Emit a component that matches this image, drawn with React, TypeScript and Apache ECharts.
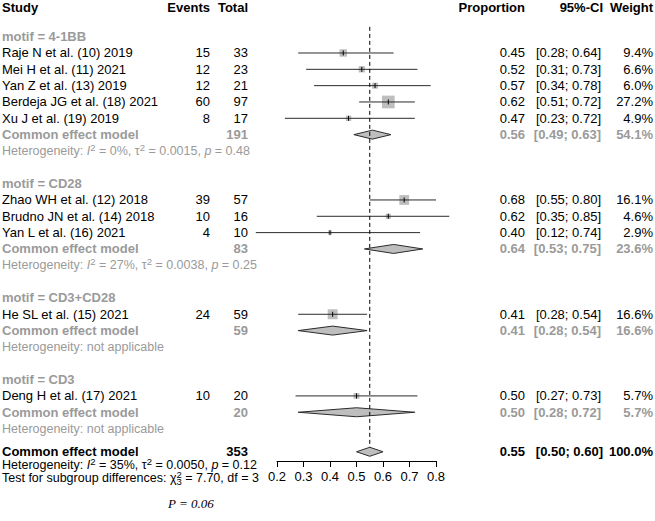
import React, { useEffect, useRef } from "react";
import * as echarts from "echarts";

// ---------- data ----------
const studies = [
  "Raje N et al. (10) 2019",
  "Mei H et al. (11) 2021",
  "Yan Z et al. (13) 2019",
  "Berdeja JG et al. (18) 2021",
  "Xu J et al. (19) 2019",
  "Zhao WH et al. (12) 2018",
  "Brudno JN et al. (14) 2018",
  "Yan L et al. (16) 2021",
  "He SL et al. (15) 2021",
  "Deng H et al. (17) 2021",
];
const studyGroup = [0, 0, 0, 0, 0, 1, 1, 1, 2, 3];
const events = [15, 12, 12, 60, 8, 39, 10, 4, 24, 10];
const totals = [33, 23, 21, 97, 17, 57, 16, 10, 59, 20];
const proportions = [0.45, 0.52, 0.57, 0.62, 0.47, 0.68, 0.62, 0.40, 0.41, 0.50];
const lowers = [0.28, 0.31, 0.34, 0.51, 0.23, 0.55, 0.35, 0.12, 0.28, 0.27];
const uppers = [0.64, 0.73, 0.78, 0.72, 0.72, 0.80, 0.85, 0.74, 0.54, 0.73];
const weights = [9.4, 6.6, 6.0, 27.2, 4.9, 16.1, 4.6, 2.9, 16.6, 5.7];

const groupLabels = ["motif = 4-1BB", "motif = CD28", "motif = CD3+CD28", "motif = CD3"];
const groupTotals = [191, 83, 59, 20];
const groupProps = [0.56, 0.64, 0.41, 0.50];
const groupLowers = [0.49, 0.53, 0.28, 0.28];
const groupUppers = [0.63, 0.75, 0.54, 0.72];
const groupWeights = [54.1, 23.6, 16.6, 5.7];
const groupI2 = ["0%", "27%", null, null];
const groupTau2 = ["0.0015", "0.0038", null, null];
const groupP = ["0.48", "0.25", null, null];

const overallTotal = 353;
const overallProp = 0.55;
const overallLower = 0.50;
const overallUpper = 0.60;
const overallWeight = 100.0;
const overallI2 = "35%";
const overallTau2 = "0.0050";
const overallP = "0.12";
const testChi2 = "7.70";
const testDf = 3;
const testP = "0.06";

const xTickLabels = ["0.2", "0.3", "0.4", "0.5", "0.6", "0.7", "0.8"];

// ---------- layout ----------
const FONT = '"Liberation Sans", Arial, sans-serif';
const SERIF = '"Liberation Serif", "Times New Roman", serif';
const GRAY = "#9a9a9a";
const LINE = "#2b2b2b";
const FILL = "#bebebe";
const TOP = 4;
const ROW_H = 16.33;
const AXIS_Y = 461;
const YMAX = (AXIS_Y - TOP) / ROW_H;
const SMALL = 12.5;

type Row = { kind: string; k: number; i?: number; g?: number };
const rows: Row[] = [];
rows.push({ kind: "header", k: 0.2 });
let kk = 2;
groupLabels.forEach((_, g) => {
  rows.push({ kind: "group", k: kk, g });
  kk++;
  studies.forEach((_, i) => {
    if (studyGroup[i] === g) {
      rows.push({ kind: "study", k: kk, i });
      kk++;
    }
  });
  rows.push({ kind: "pooled", k: kk, g });
  kk++;
  rows.push({ kind: "het", k: kk, g });
  kk += 2;
});
const OVERALL_K = kk - 0.58;
rows.push({ kind: "overall", k: OVERALL_K });
rows.push({ kind: "overallHet", k: kk + 0.22 });
rows.push({ kind: "test", k: kk + 1.0 });
rows.push({ kind: "pval", k: kk + 2.6 });
rows.push({ kind: "refline", k: 1.4 });

const fmt2 = (v: number) => v.toFixed(2);
const ciText = (l: number, u: number) => `[${fmt2(l)}; ${fmt2(u)}]`;
const wText = (w: number) => `${w.toFixed(1)}%`;

const COL = { study: 2, events: 210, total: 248, prop: 525, ci: 601, weight: 653 };

function T(text: string, x: number, y: number, o: any = {}) {
  const align = o.align ?? "left";
  return {
    type: "text",
    silent: true,
    style: {
      text,
      x,
      y,
      fill: o.color ?? "#000",
      font: `${o.italic ? "italic " : ""}${o.bold ? "bold " : ""}${o.size ?? 13}px ${o.family ?? FONT}`,
      align,
      verticalAlign: "middle",
      textAlign: align,
      textVerticalAlign: "middle",
    },
  };
}

function richStyles(c: string) {
  const base = { fontSize: SMALL, fontFamily: FONT, fill: c, color: c, lineHeight: 17 };
  const sup = { fontSize: 9.5, fontFamily: FONT, fill: c, color: c, lineHeight: 9.5, verticalAlign: "top" };
  return {
    n: base,
    i: { ...base, fontStyle: "italic" },
    sp: sup,
    sp0: { ...sup, width: 0 },
    sb: { ...sup, verticalAlign: "bottom" },
  };
}

function RT(text: string, x: number, y: number, c: string) {
  return {
    type: "text",
    silent: true,
    style: {
      text,
      x,
      y,
      fill: c,
      font: `${SMALL}px ${FONT}`,
      align: "left",
      verticalAlign: "middle",
      textAlign: "left",
      textVerticalAlign: "middle",
      rich: richStyles(c),
    },
  };
}

function hetText(i2: string | null, tau2: string | null, p: string | null) {
  if (i2 == null) return "{n|Heterogeneity: not applicable}";
  return `{n|Heterogeneity: }{i|I}{sp|2}{n| = ${i2}, τ}{sp|2}{n| = ${tau2}, }{i|p}{n| = ${p}}`;
}

function diamond(api: any, k: number, est: number, lo: number, hi: number) {
  const y = api.coord([est, k])[1];
  const h = 4.5;
  return {
    type: "polygon",
    silent: true,
    shape: {
      points: [
        [api.coord([lo, k])[0], y],
        [api.coord([est, k])[0], y - h],
        [api.coord([hi, k])[0], y],
        [api.coord([est, k])[0], y + h],
      ],
    },
    style: { fill: FILL, stroke: LINE, lineWidth: 1 },
  };
}

const renderItem = (params: any, api: any) => {
  const r = rows[params.dataIndex];
  const y = api.coord([0.5, r.k])[1];
  const X = (v: number) => api.coord([v, r.k])[0];
  const ch: any[] = [];
  if (r.kind === "header") {
    ch.push(T("Study", COL.study, y, { bold: true }));
    ch.push(T("Events", COL.events, y, { bold: true, align: "right" }));
    ch.push(T("Total", COL.total, y, { bold: true, align: "right" }));
    ch.push(T("Proportion", COL.prop, y, { bold: true, align: "right" }));
    ch.push(T("95%-CI", 603, y, { bold: true, align: "right" }));
    ch.push(T("Weight", COL.weight, y, { bold: true, align: "right" }));
  } else if (r.kind === "group") {
    ch.push(T(groupLabels[r.g!], COL.study, y, { bold: true, color: GRAY }));
  } else if (r.kind === "study") {
    const i = r.i!;
    ch.push(T(studies[i], COL.study, y));
    ch.push(T(String(events[i]), COL.events, y, { align: "right" }));
    ch.push(T(String(totals[i]), COL.total, y, { align: "right" }));
    ch.push(T(fmt2(proportions[i]), COL.prop, y, { align: "right" }));
    ch.push(T(ciText(lowers[i], uppers[i]), COL.ci, y, { align: "right" }));
    ch.push(T(wText(weights[i]), COL.weight, y, { align: "right" }));
    const s = 12.7 * Math.sqrt(weights[i] / 27.2);
    const cx = X(proportions[i]);
    ch.push({
      type: "rect",
      silent: true,
      shape: { x: cx - s / 2, y: y - s / 2, width: s, height: s },
      style: { fill: FILL },
    });
    ch.push({
      type: "line",
      silent: true,
      shape: { x1: X(lowers[i]), y1: y, x2: X(uppers[i]), y2: y },
      style: { stroke: LINE, lineWidth: 1 },
    });
    ch.push({
      type: "line",
      silent: true,
      shape: { x1: cx, y1: y - 2.5, x2: cx, y2: y + 2.5 },
      style: { stroke: "#000", lineWidth: 1 },
    });
  } else if (r.kind === "pooled") {
    const g = r.g!;
    ch.push(T("Common effect model", COL.study, y, { bold: true, color: GRAY }));
    ch.push(T(String(groupTotals[g]), COL.total, y, { bold: true, color: GRAY, align: "right" }));
    ch.push(T(fmt2(groupProps[g]), COL.prop, y, { bold: true, color: GRAY, align: "right" }));
    ch.push(T(ciText(groupLowers[g], groupUppers[g]), COL.ci, y, { bold: true, color: GRAY, align: "right" }));
    ch.push(T(wText(groupWeights[g]), COL.weight, y, { bold: true, color: GRAY, align: "right" }));
    ch.push(diamond(api, r.k, groupProps[g], groupLowers[g], groupUppers[g]));
  } else if (r.kind === "het") {
    const g = r.g!;
    ch.push(RT(hetText(groupI2[g], groupTau2[g], groupP[g]), COL.study, y, GRAY));
  } else if (r.kind === "overall") {
    ch.push(T("Common effect model", COL.study, y, { bold: true }));
    ch.push(T(String(overallTotal), COL.total, y, { bold: true, align: "right" }));
    ch.push(T(fmt2(overallProp), COL.prop, y, { bold: true, align: "right" }));
    ch.push(T(ciText(overallLower, overallUpper), 603, y, { bold: true, align: "right" }));
    ch.push(T(wText(overallWeight), COL.weight, y, { bold: true, align: "right" }));
    ch.push(diamond(api, r.k, overallProp, overallLower, overallUpper));
  } else if (r.kind === "overallHet") {
    ch.push(RT(hetText(overallI2, overallTau2, overallP), COL.study, y, "#000"));
  } else if (r.kind === "test") {
    ch.push(
      RT(
        `{n|Test for subgroup differences: χ}{sp0|2}{sb|3}{n| = ${testChi2}, df = ${testDf}}`,
        COL.study,
        y,
        "#000"
      )
    );
  } else if (r.kind === "pval") {
    ch.push(T(`P = ${testP}`, 168, y, { italic: true, family: SERIF, size: 13 }));
  } else if (r.kind === "refline") {
    const x = api.coord([overallProp, r.k])[0];
    const y2 = api.coord([overallProp, OVERALL_K])[1] - 4.5;
    ch.push({
      type: "line",
      silent: true,
      shape: { x1: x, y1: y, x2: x, y2 },
      style: { stroke: "#000", lineWidth: 1, lineDash: [4, 3] },
    });
  }
  return { type: "group", children: ch };
};

const option: any = {
  animation: false,
  backgroundColor: "#fff",
  grid: { left: 277, right: 219, top: TOP, bottom: 521 - AXIS_Y },
  xAxis: {
    type: "value",
    min: 0.2,
    max: 0.8,
    interval: 0.1,
    axisLine: { show: true, onZero: false, lineStyle: { color: "#000", width: 1 } },
    axisTick: { show: true, length: 6, lineStyle: { color: "#000", width: 1 } },
    axisLabel: {
      fontSize: 13,
      color: "#000",
      fontFamily: FONT,
      margin: 9,
      showMinLabel: true,
      showMaxLabel: true,
      formatter: (v: number) => xTickLabels[Math.round((v - 0.2) * 10)] ?? v.toFixed(1),
    },
    splitLine: { show: false },
  },
  yAxis: { type: "value", min: 0, max: YMAX, inverse: true, show: false },
  series: [
    {
      type: "custom",
      renderItem,
      clip: false,
      silent: true,
      encode: { x: 0, y: 1 },
      data: rows.map((r) => [0.5, r.k]),
    },
  ],
};

export default function App() {
  const ref = useRef<HTMLDivElement>(null);
  useEffect(() => {
    const chart = echarts.init(ref.current!, null, { renderer: "svg" });
    chart.setOption(option);
    return () => chart.dispose();
  }, []);
  return (
    <div
      ref={ref}
      style={{ position: "fixed", left: 0, top: 0, width: 655, height: 521, background: "#fff" }}
    />
  );
}
